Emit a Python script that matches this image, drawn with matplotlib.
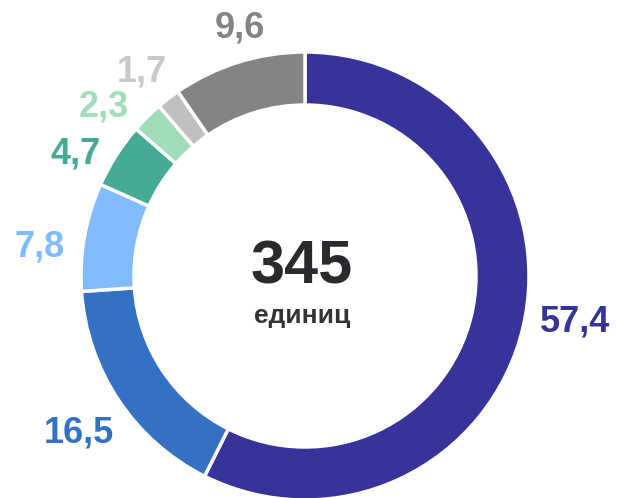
import matplotlib
matplotlib.use("Agg")
import matplotlib.pyplot as plt
import numpy as np

values = [57.4, 16.5, 7.8, 4.7, 2.3, 1.7, 9.6]
labels = ["57,4", "16,5", "7,8", "4,7", "2,3", "1,7", "9,6"]
colors = ["#36339a", "#3470c4", "#7fbbfd", "#45ab95", "#a2ddba", "#c0c0c0", "#848484"]
label_colors = ["#36339a", "#3470c4", "#7fbbfd", "#45ab95", "#a2ddba", "#c8c8c8", "#848484"]
total_text = "345"
unit_text = "единиц"

W, H = 618, 498
fig = plt.figure(figsize=(W / 100, H / 100), dpi=100)
ax = fig.add_axes([0, 0, 1, 1])

cx, cy = 305, H - 276
R = 224
width = 53

wedges, _ = ax.pie(values, colors=colors, startangle=90, counterclock=False,
                   center=(cx, cy), radius=R, frame=True,
                   wedgeprops=dict(width=width, edgecolor="white", linewidth=2.5))
ax.set_xlim(0, W)
ax.set_ylim(0, H)
ax.axis("off")

font = ["Liberation Sans", "DejaVu Sans"]
# label placement tweaks (angle nudge in degrees, distance factor of radius)
nudge = [3.6, 1.1, 3.9, 4.6, 5.2, 1.0, -2.6]
dist = [1.225, 1.23, 1.19, 1.16, 1.175, 1.165, 1.145]
for w, lab, col, dn, k in zip(wedges, labels, label_colors, nudge, dist):
    ang = np.deg2rad((w.theta1 + w.theta2) / 2 + dn)
    ax.text(cx + k * R * np.cos(ang), cy + k * R * np.sin(ang), lab, color=col,
            fontsize=26, fontweight="bold", family=font, ha="center", va="center")

ax.text(cx - 3, H - 283, total_text, color="#2a2a2e", fontsize=44, fontweight="bold",
        family=font, ha="center", va="baseline")
ax.text(cx - 3, H - 323, unit_text, color="#333333", fontsize=19, fontweight="bold",
        family=font, ha="center", va="baseline")

fig.savefig("out.png", dpi=100)
